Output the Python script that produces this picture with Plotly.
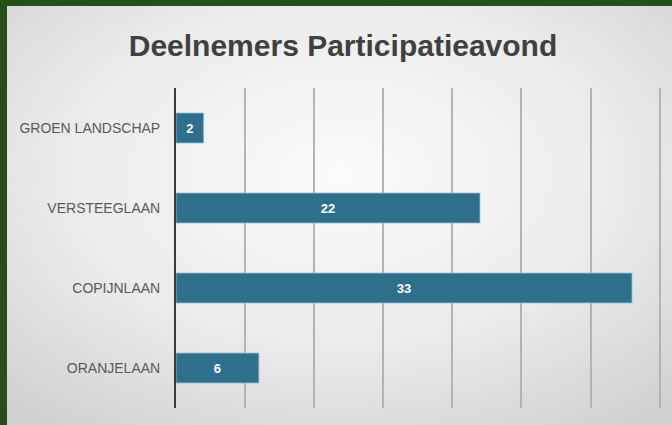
import base64
import plotly.graph_objects as go

categories = ["GROEN LANDSCHAP", "VERSTEEGLAAN", "COPIJNLAAN", "ORANJELAAN"]
values = [2, 22, 33, 6]
x_ticks = [0, 5, 10, 15, 20, 25, 30, 35]

W, H = 672, 425
L, R, T, B = 176, 8, 88, 17
PW, PH = W - L - R, H - T - B

svg = f'''<svg xmlns="http://www.w3.org/2000/svg" width="{W}" height="{H}" viewBox="0 0 {W} {H}" preserveAspectRatio="none">
<defs><radialGradient id="g" cx="0.5" cy="0.4" r="0.75" gradientUnits="objectBoundingBox">
<stop offset="0" stop-color="#fbfbfb"/><stop offset="0.55" stop-color="#ebebeb"/><stop offset="1" stop-color="#d0d0d0"/></radialGradient></defs>
<rect x="0" y="0" width="{W}" height="{H}" fill="#25501a"/>
<rect x="7" y="6" width="{W-7}" height="{H-6}" fill="url(#g)"/>
</svg>'''
src = "data:image/svg+xml;base64," + base64.b64encode(svg.encode()).decode()

fig = go.Figure(go.Bar(
    x=values, y=categories, orientation="h",
    marker=dict(color="#2e6f8e", line=dict(color="#8fc3d8", width=0.8)),
    text=[str(v) for v in values], textposition="inside",
    insidetextanchor="middle",
    textfont=dict(color="white", size=13, family="Liberation Sans, Arial, sans-serif", weight="bold"),
    width=0.375, hoverinfo="skip",
))

fig.update_layout(
    width=W, height=H,
    margin=dict(l=L, r=R, t=T, b=B),
    paper_bgcolor="#25501a", plot_bgcolor="rgba(0,0,0,0)",
    images=[dict(source=src, xref="paper", yref="paper", x=-L/PW, y=1+T/PH,
                 sizex=W/PW, sizey=H/PH, xanchor="left", yanchor="top",
                 sizing="stretch", layer="below")],
    title=dict(text="<b>Deelnemers Participatieavond</b>", x=(343-L)/PW, xref="paper", xanchor="center",
               y=1 - 45/H, yanchor="middle",
               font=dict(family="Liberation Sans, Arial, sans-serif", size=30, color="#404040")),
    showlegend=False,
    bargap=0.625,
)
fig.update_xaxes(range=[0, 35 * PW / 483.6], tickvals=x_ticks, showticklabels=False, showgrid=True,
                 gridcolor="#b3b3b3", gridwidth=1.5, zeroline=False, showline=False, fixedrange=True)
fig.update_yaxes(categoryorder="array", categoryarray=categories[::-1], autorange=False, range=[-0.5, 3.5],
                 showline=True, linecolor="#3a3a3a", linewidth=2, showgrid=False,
                 ticks="outside", ticklen=11, tickcolor="rgba(0,0,0,0)",
                 tickfont=dict(family="Liberation Sans, Arial, sans-serif", size=14, color="#595959"),
                 fixedrange=True)

fig.write_html("out.html", config={"displayModeBar": False},
               post_script="document.body.style.margin='0';document.body.style.overflow='hidden';")
